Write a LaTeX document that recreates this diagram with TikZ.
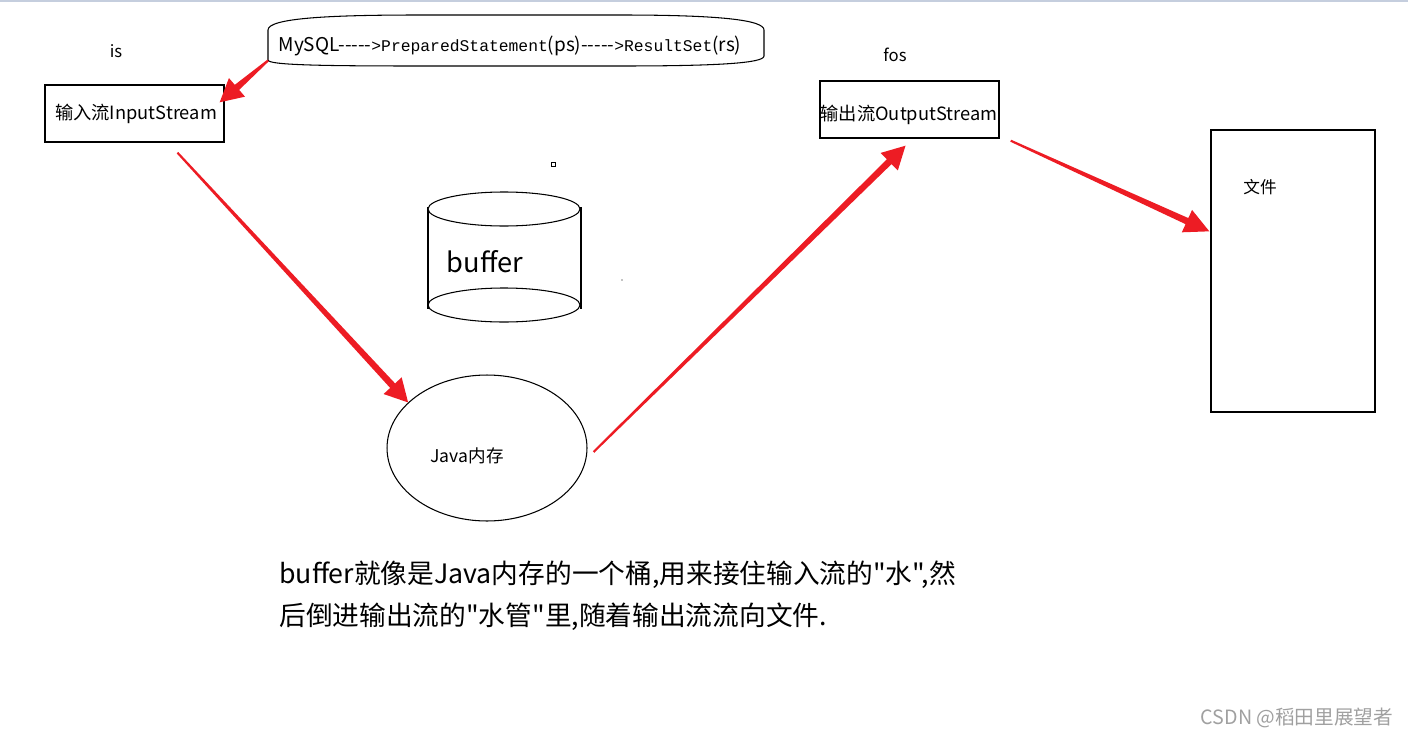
\documentclass[tikz,border=0pt]{standalone}
\usepackage{fontspec}
\setmainfont{Noto Sans CJK SC}[Ligatures=TeXOff]
\newfontfamily\codefont{Liberation Mono}[Ligatures=TeXOff]
\usetikzlibrary{positioning,calc,shapes.geometric}
\definecolor{arrowred}{RGB}{237,28,36}
\definecolor{topbar}{RGB}{197,206,222}
\definecolor{markgray}{RGB}{160,160,160}
\tikzset{
  box/.style={draw,line width=0.8pt,inner sep=0pt},
  lbl/.style={font=\fontsize{9.5}{11}\selectfont,inner sep=0pt},
  boxlbl/.style={font=\fontsize{10.4}{12}\selectfont,inner sep=0pt},
  note/.style={font=\fontsize{15.2}{18}\selectfont,inner sep=0pt,anchor=base west},
  thin/.style={line width=0.6pt}
}
% tapered red arrow: [head length]{from}{to}
\newcommand\fatarrow[3][13pt]{%
  \path (#2) coordinate (fa-s) (#3) coordinate (fa-e);
  \coordinate (fa-h) at ($(fa-e)!#1!(fa-s)$);
  \fill[arrowred] ($(fa-s)!0.6pt!90:(fa-e)$) -- ($(fa-h)!1.9pt!90:(fa-e)$)
    -- ($(fa-h)!7pt!90:(fa-e)$) -- (fa-e) -- ($(fa-h)!7pt!-90:(fa-e)$)
    -- ($(fa-h)!1.9pt!-90:(fa-e)$) -- ($(fa-s)!0.6pt!-90:(fa-e)$) -- cycle;
}
\newcommand\sqlsans{\rmfamily\fontsize{10.8}{12}\selectfont}
\newcommand\sqlmono{\codefont\fontsize{9.3}{10}\selectfont}
\begin{document}
\begin{tikzpicture}[x=0.02cm,y=-0.02cm]
\useasboundingbox (0,0) rectangle (1408,737);
\fill[topbar] (0,0) rectangle (1408,2);

% MySQL bubble
\draw[thin] (268,30) .. controls (268,18) and (330,15) .. (420,15) -- (620,15)
  .. controls (720,15) and (764,20) .. (764,30) -- (764,56)
  .. controls (764,63) and (720,66) .. (620,66) -- (420,66)
  .. controls (320,66) and (268,65) .. coordinate[pos=0.97] (mysql-sw) (268,60) -- cycle;
\node[inner sep=0pt] (mysql) at (510,46) {\sqlsans MySQL-----\sqlmono>PreparedStatement\sqlsans(ps)-----\sqlmono>ResultSet\sqlsans(rs)};

% streams
\node[lbl] (is) at (116,51) {is};
\node[box,minimum width=3.58cm,minimum height=1.14cm] (inbox) at (134.5,113.5) {};
\node[boxlbl] (intext) at (136,114) {输入流InputStream};
\node[lbl] (fos) at (895,55) {fos};
\node[box,minimum width=3.58cm,minimum height=1.14cm] (outbox) at (909.5,109.5) {};
\node[boxlbl] (outtext) at (909,115) {输出流OutputStream};
\node[box,minimum width=3.28cm,minimum height=5.64cm] (file) at (1293,271) {};
\node[lbl] (filetext) at (1260,187) {文件};

% buffer
\draw[thin] (428,207) -- (428,309) (581,207) -- (581,309);
\fill[white] (504,209) ellipse [x radius=76,y radius=17];
\draw[thin] (504,209) ellipse [x radius=76,y radius=17];
\draw[thin] (504,305) ellipse [x radius=76,y radius=17];
\node[inner sep=0pt,font=\fontsize{15.5}{18}\selectfont] (buffer) at (485,262) {buffer};
\draw[line width=0.4pt] (551.5,162.5) rectangle (555,166);
\fill (622,280) circle (0.6);

% memory
\node[draw,thin,ellipse,minimum width=4cm,minimum height=2.92cm] (java) at (487,448) {};
\node[inner sep=0pt,font=\fontsize{10}{12}\selectfont] (javatext) at (467,456) {Java内存};

% flow
\fatarrow{mysql-sw}{$(inbox.north east)+(-5,18)$}
\fatarrow{$(inbox.south)+(43,10)$}{java.150}
\fatarrow{$(java.east)+(6,4)$}{$(outbox.south)+(-4,7)$}
\fatarrow[14pt]{$(outbox.south east)+(11,2)$}{$(file.north west)+(-1,102)$}

\node[note] (note1) at (279,583) {buffer就像是Java内存的一个桶,用来接住输入流的"水",然};
\node[note] (note2) at (279,625) {后倒进输出流的"水管"里,随着输出流流向文件.};
\node[inner sep=0pt,text=markgray,font=\fontsize{11.2}{13}\selectfont] (mark) at (1297,718) {CSDN @稻田里展望者};
\end{tikzpicture}
\end{document}
